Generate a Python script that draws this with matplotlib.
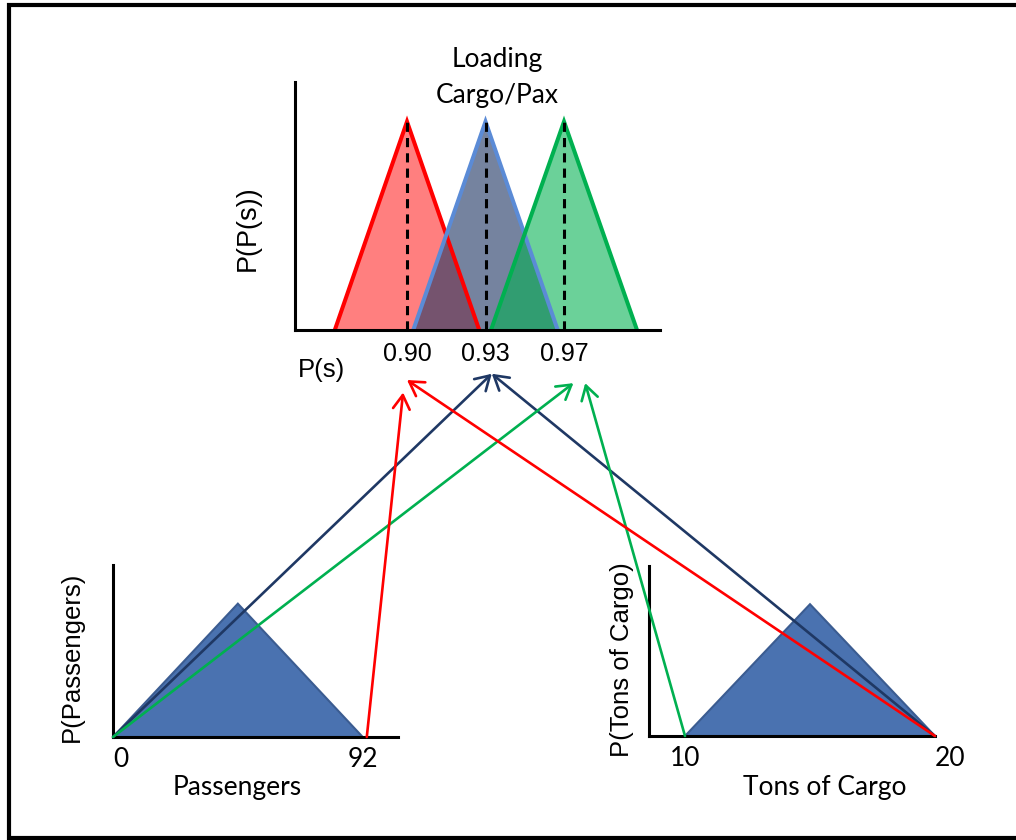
import matplotlib.pyplot as plt
from matplotlib.patches import ConnectionPatch

W, H = 1016, 840
CAL = ['Lato', 'DejaVu Sans']
ARI = ['Liberation Sans', 'DejaVu Sans']

# top chart: loading probability distributions
load_labels = ['0.90', '0.93', '0.97']
load_pos = [1, 2, 3]
load_peak = [1.0, 1.0, 1.0]
load_half = [0.92, 0.92, 0.93]
load_fill = ['#FF0000', '#203864', '#00B050']
load_alpha = [0.5, 0.62, 0.58]
load_edge = ['#FF0000', '#5B8BD6', '#00B050']

# bottom charts: input distributions
pax_x = [0, 46, 92]
pax_y = [0, 1, 0]
pax_ticks = [0, 92]
cargo_x = [10, 15, 20]
cargo_y = [0, 1, 0]
cargo_ticks = [10, 20]

# arrows from inputs to the loading values
arr_src = ['pax', 'cargo', 'pax', 'cargo', 'pax', 'cargo']
arr_src_x = [0, 20, 0, 10, 93.5, 20]
arr_dst_x = [2.08, 2.08, 3.12, 3.27, 0.95, 1.0]
arr_dst_y = [-0.21, -0.21, -0.255, -0.255, -0.30, -0.24]
arr_color = ['#1F3864', '#1F3864', '#00B050', '#00B050', '#FF0000', '#FF0000']


def rect(x0, y0, x1, y1):
    return [x0 / W, 1 - y1 / H, (x1 - x0) / W, (y1 - y0) / H]


def style_axes(ax):
    ax.set_facecolor('none')
    for s in ['top', 'right']:
        ax.spines[s].set_visible(False)
    for s in ['left', 'bottom']:
        ax.spines[s].set_linewidth(2.2)
        ax.spines[s].set_color('black')
    ax.set_yticks([])
    ax.tick_params(axis='x', length=0)


fig = plt.figure(figsize=(W / 100, H / 100), dpi=100)

bg = fig.add_axes([0, 0, 1, 1])
bg.set_xlim(0, W)
bg.set_ylim(H, 0)
bg.axis('off')
bg.plot([1030, 9, 9, 1030], [5, 5, 838, 838], color='black', lw=3, clip_on=False,
        solid_joinstyle='miter')

# top chart
ax = fig.add_axes(rect(295, 82, 660, 330))
style_axes(ax)
for p, h, hw, fc, a, ec in zip(load_pos, load_peak, load_half, load_fill, load_alpha, load_edge):
    xs = [p - hw, p, p + hw]
    ys = [0, h, 0]
    ax.fill(xs, ys, facecolor=fc, alpha=a, lw=0)
    ax.plot(xs, ys, color=ec, lw=2.9, solid_joinstyle='miter')
for p, h in zip(load_pos, load_peak):
    ax.plot([p, p], [0, h], color='black', lw=2.2, linestyle=(0, (3, 2)))
ax.set_xlim(-0.427, 4.223)
ax.set_ylim(0, 1.19)
ax.set_xticks(load_pos, load_labels, family=ARI, fontsize=18)
ax.tick_params(axis='x', pad=9)
bg.text(248, 228, 'P(P(s))', rotation=90, ha='center', va='center', family=ARI, fontsize=19.5)
bg.text(321, 370, 'P(s)', ha='center', va='center', family=ARI, fontsize=18.5)
bg.text(497, 77, 'Loading\nCargo/Pax', ha='center', va='center', family=CAL, fontsize=19,
        linespacing=1.55)

# passengers
axp = fig.add_axes(rect(113, 565, 398, 737))
style_axes(axp)
axp.fill(pax_x, pax_y, facecolor='#4A72B0', edgecolor='#3B5C91', lw=1.5)
axp.set_xlim(0, 105)
axp.set_ylim(0, 1.29)
axp.set_xticks(pax_ticks, [str(t) for t in pax_ticks], family=CAL, fontsize=19)
axp.get_xticklabels()[0].set_ha('left')
axp.tick_params(axis='x', pad=7)
bg.text(237, 788, 'Passengers', ha='center', va='center', family=CAL, fontsize=19)
bg.text(72, 657, 'P(Passengers)', rotation=90, ha='center', va='center', family=ARI, fontsize=18.5)

# cargo
axc = fig.add_axes(rect(649, 566, 935, 736))
style_axes(axc)
axc.fill(cargo_x, cargo_y, facecolor='#4A72B0', edgecolor='#3B5C91', lw=1.5)
axc.set_xlim(8.56, 20)
axc.set_ylim(0, 1.29)
axc.set_xticks(cargo_ticks, [str(t) for t in cargo_ticks], family=CAL, fontsize=19)
axc.get_xticklabels()[1].set_ha('left')
axc.tick_params(axis='x', pad=7)
bg.text(825, 788, 'Tons of Cargo', ha='center', va='center', family=CAL, fontsize=19)
bg.text(622, 660, 'P(Tons of Cargo)', rotation=90, ha='center', va='center', family=ARI, fontsize=18.5)

src_axes = {'pax': axp, 'cargo': axc}
for s, sx, dx, dy, c in zip(arr_src, arr_src_x, arr_dst_x, arr_dst_y, arr_color):
    con = ConnectionPatch(xyA=(sx, 0), coordsA=src_axes[s].transData,
                          xyB=(dx, dy), coordsB=ax.transData,
                          arrowstyle='->,head_length=1.0,head_width=0.6',
                          color=c, lw=1.9, mutation_scale=10,
                          shrinkA=0, shrinkB=0)
    fig.add_artist(con)

fig.savefig('out.png', dpi=100)
